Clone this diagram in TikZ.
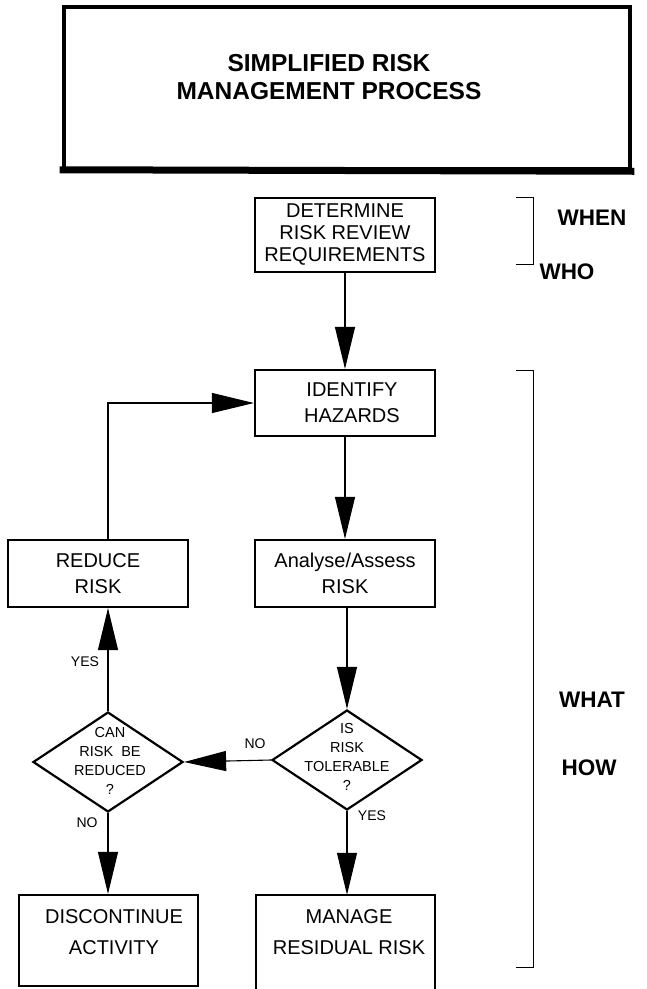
\documentclass[tikz,border=0pt]{standalone}
\usepackage{fontspec}
\setmainfont{Liberation Sans}
\usetikzlibrary{shapes.geometric,arrows.meta}
\begin{document}
\begin{tikzpicture}[x=1pt,y=-1pt,
  box/.style={draw, line width=2.2pt, minimum width=180pt, inner sep=0pt, align=center},
  dia/.style={diamond, draw, line width=2.2pt, minimum width=150pt, minimum height=100pt, inner sep=0pt},
  lbl/.style={font=\fontsize{14}{19}\selectfont, inner sep=0pt},
  dtext/.style={font=\fontsize{14.5}{19}\selectfont, align=center, inner sep=0pt},
  side/.style={font=\fontsize{22.5}{24}\bfseries\selectfont, inner sep=0pt},
  arr/.style={line width=1.1pt, -{Triangle[length=42pt, width=20pt]}},
  ln/.style={line width=1pt}
]
\useasboundingbox (0,0) rectangle (647,989);
% title
\node[draw, line width=4.5pt, minimum width=566pt, minimum height=162pt, inner sep=0pt] (title) at (347,88) {};
\draw[line width=7pt] ([xshift=-2.2pt]title.south west) ++(0,-1.5) -- ([xshift=2.2pt]title.south east) ++(0,-1.5);
\node[font=\fontsize{24.5}{28}\bfseries\selectfont, align=center, inner sep=0pt] (ttl) at (329,77) {SIMPLIFIED RISK\\MANAGEMENT PROCESS};
% boxes
\node[box, minimum height=74pt, font=\fontsize{20}{22}\selectfont] (det) at (345,235) {DETERMINE\\RISK REVIEW\\REQUIREMENTS};
\node[box, minimum height=66pt, font=\fontsize{20}{26}\selectfont] (ident) at (345,403) {\hspace{14pt}IDENTIFY\\\hspace{14pt}HAZARDS};
\node[box, minimum height=67pt, font=\fontsize{20}{26}\selectfont] (reduce) at (98,573.5) {REDUCE\\RISK};
\node[box, minimum height=67pt, font=\fontsize{20}{26}\selectfont] (analyse) at (345,573.5) {Analyse/Assess\\RISK};
\node[dia] (is) at (347,760) {};
\node[dia] (can) at (108,762) {};
\node[dtext] (istxt) at (347,757) {IS\\RISK\\TOLERABLE\\?};
\node[dtext] (cantxt) at (110,761) {CAN\\RISK~~BE\\REDUCED\\?};
\node[box, minimum width=179pt, minimum height=91pt] (disc) at (108.5,940.5) {};
\node[font=\fontsize{20}{31}\selectfont, align=center, inner sep=0pt] (disctxt) at (114,932) {DISCONTINUE\\ACTIVITY};
\node[minimum width=179pt, minimum height=100pt, inner sep=0pt] (manage) at (345.5,945) {};
\draw[line width=2.2pt] (manage.south west) -- (manage.north west) -- (manage.north east) -- (manage.south east);
\node[font=\fontsize{20}{31}\selectfont, align=center, inner sep=0pt] (managetxt) at (349,932) {MANAGE\\RESIDUAL RISK};
% connectors
\draw[arr] (det.south) -- (ident.north);
\draw[arr] (ident.south) -- (analyse.north);
\draw[arr] (analyse.south -| is.north) -- (is.north);
\draw[arr] (is.west) -- (can.east);
\draw[arr] (can.north) -- (can.north |- reduce.south);
\draw[arr] (can.north |- reduce.north) |- (ident.west);
\draw[arr] (can.south) -- (can.south |- disc.north);
\draw[arr] (is.south) -- (is.south |- manage.north);
% labels
\node[lbl] (lno1) at (255,744) {NO};
\node[lbl] (lyes1) at (85,662) {YES};
\node[lbl] (lno2) at (87,823) {NO};
\node[lbl] (lyes2) at (372,816) {YES};
% brackets
\coordinate (b1t) at (516,197);
\coordinate (b1b) at (516,264);
\draw[ln] (b1t) -- ++(17,0) |- (b1b);
\coordinate (b2t) at (516,370);
\coordinate (b2b) at (516,967);
\draw[ln] (b2t) -- ++(17,0) |- (b2b);
\node[side] (when) at (592,218) {WHEN};
\node[side] (who) at (567,272) {WHO};
\node[side] (what) at (592,700) {WHAT};
\node[side] (how) at (589,768) {HOW};
\end{tikzpicture}
\end{document}
